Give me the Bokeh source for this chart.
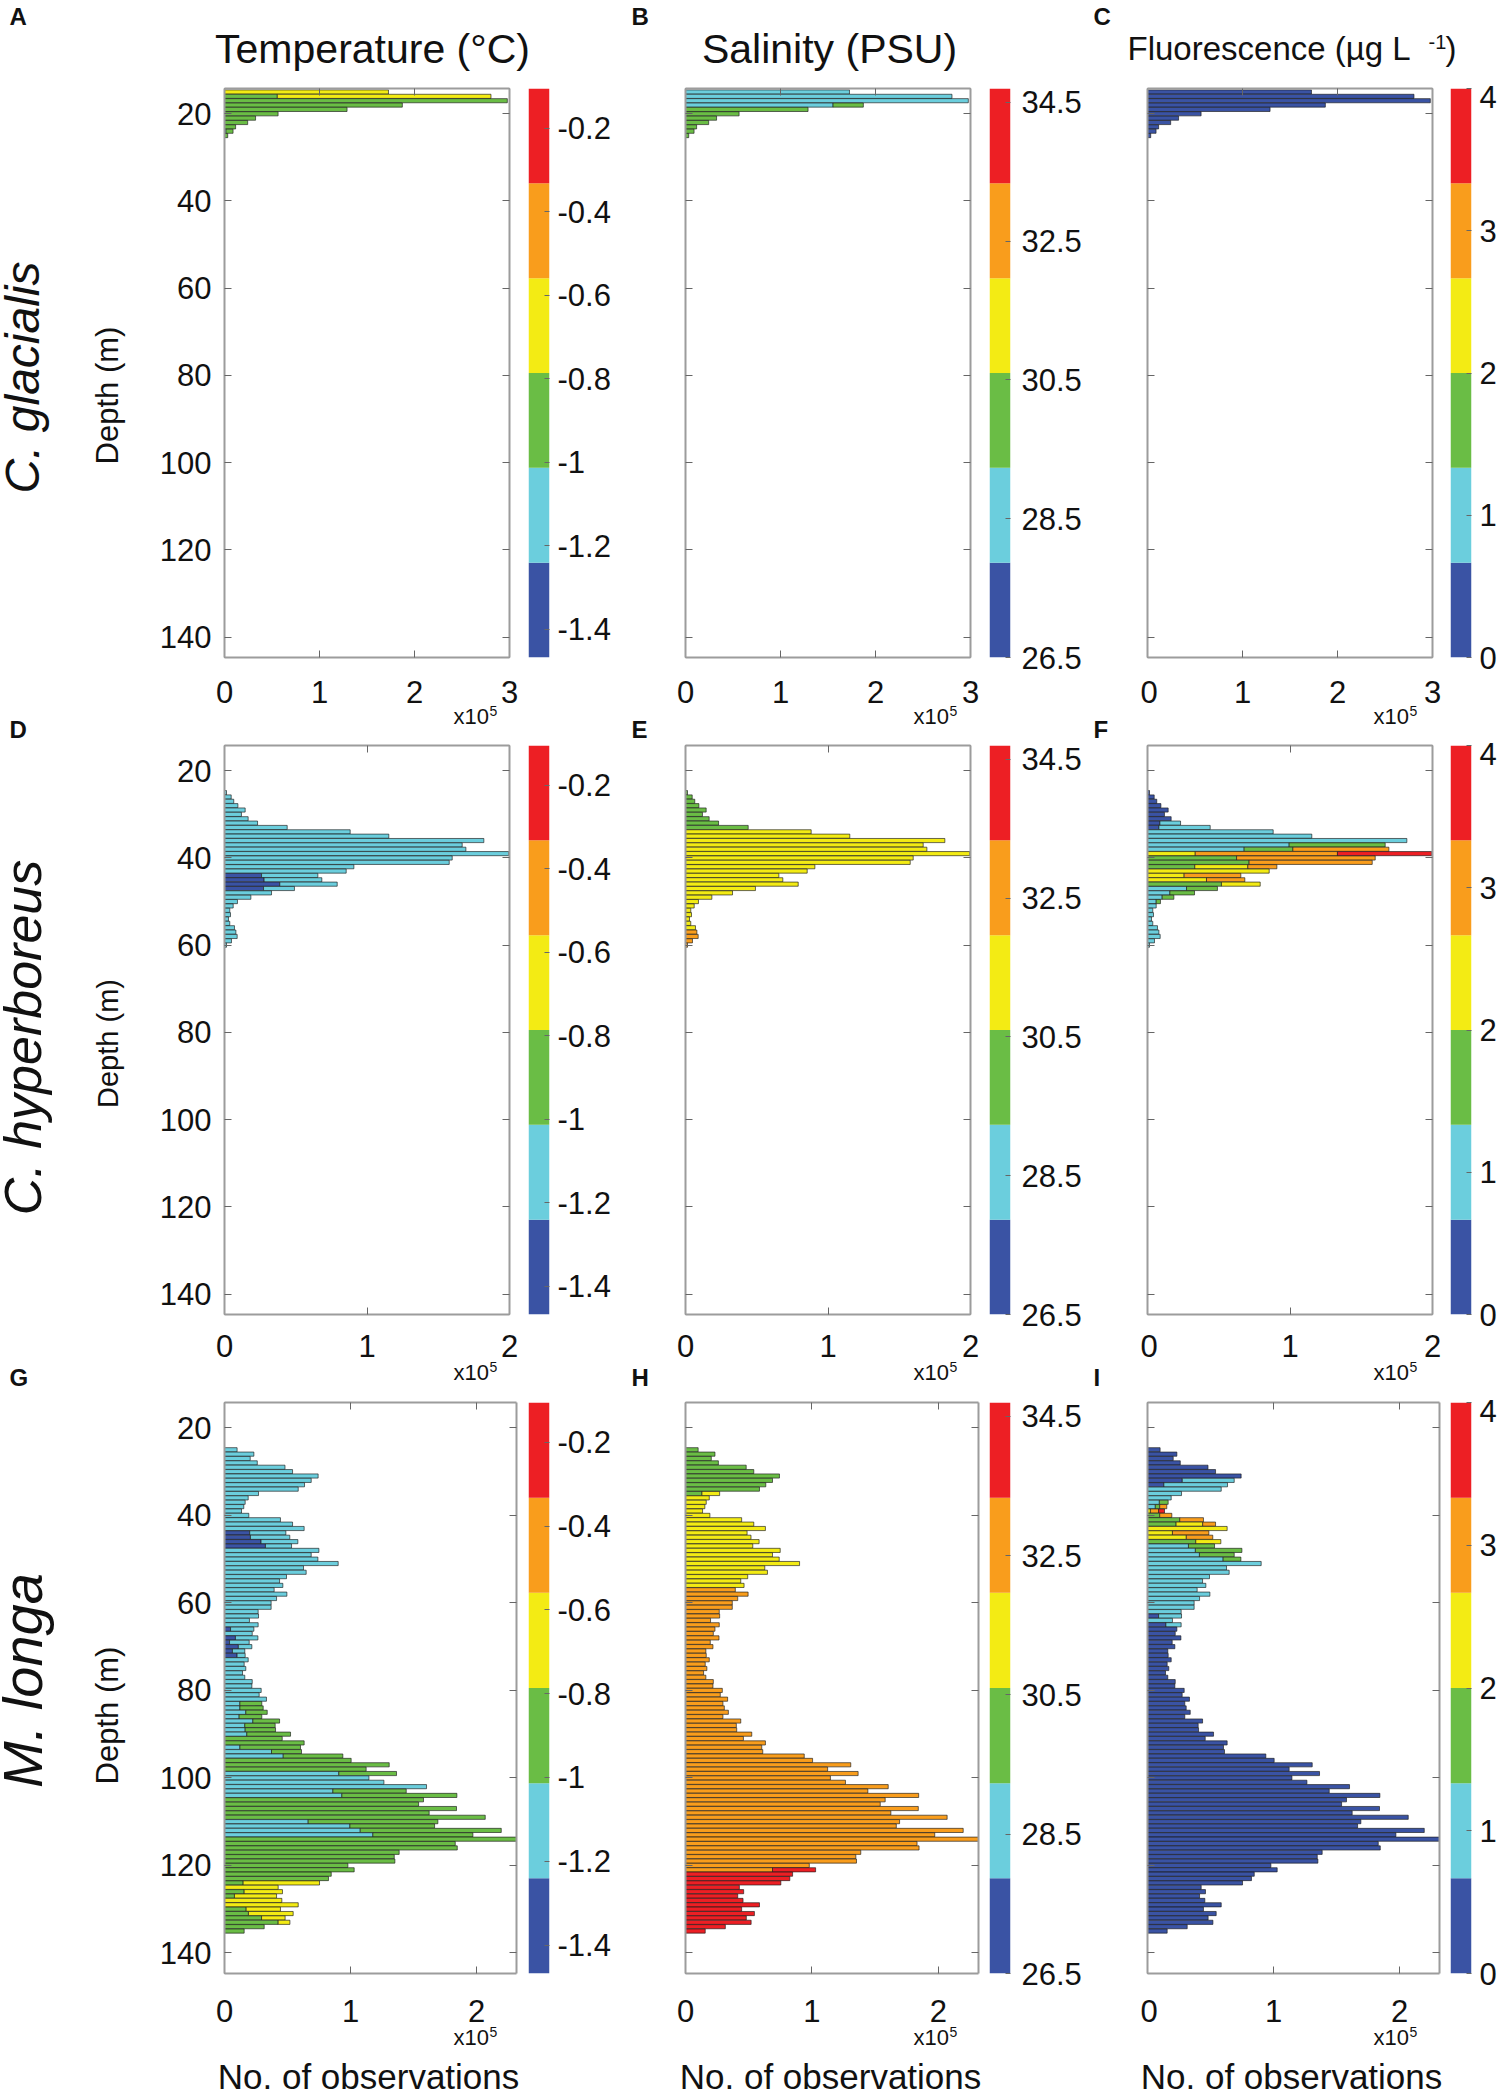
import numpy as np
from bokeh.core.properties import value
from bokeh.embed import file_html
from bokeh.layouts import column, row
from bokeh.models import FixedTicker, LinearAxis, Range1d
from bokeh.plotting import figure
from bokeh.resources import INLINE

# depth bins (m) of each row, one metre wide
DEPTHS_1 = list(range(15, 26))
DEPTHS_2 = list(range(25, 61))
DEPTHS_3 = list(range(25, 136))

# observations per bin, x10^5
TOTALS_1 = [1.726, 2.805, 2.977, 1.872, 1.29, .564, .327, .244, .117, .09, .034]
TOTALS_2 = [.014, .047, .065, .094, .145, .119, .166, .232, .44, .882, 1.153, 1.82,
            1.668, 1.694, 1.995, 1.598, 1.577, .908, .854, .655, .683, .791, .491,
            .33, .185, .091, .061, .037, .042, .028, .037, .07, .08, .089, .049, .014]
TOTALS_3 = [.10, .233, .204, .26, .48, .54, .743, .688, .635, .585, .27, .188, .164,
            .153, .135, .193, .444, .54, .632, .487, .518, .582, .532, .749, .688,
            .741, .902, .627, .648, .492, .437, .463, .394, .495, .413, .37, .37,
            .267, .27, .198, .267, .233, .22, .265, .196, .217, .161, .164, .188,
            .156, .169, .143, .161, .22, .217, .291, .275, .333, .296, .307, .339,
            .296, .437, .402, .405, .524, .458, .632, .603, .611, .939, 1.005, 1.307,
            1.124, 1.365, 1.146, 1.265, 1.603, 1.442, 1.844, 1.579, 1.54, 1.841,
            1.624, 2.069, 1.693, 1.667, 2.196, 1.971, 2.317, 1.831, 1.847, 1.386,
            1.347, 1.352, .979, 1.029, .847, .825, .754, .426, .46, .413, .455, .585,
            .444, .545, .481, .519, .315, .156]

# colours in each bar, left to right, and where one colour gives way to the next
A_COLORS = ["y", "gy"] + ["g"] * 7 + ["cg", "g"]
A_SPLITS = [.556, .015]
B_COLORS = ["c"] * 3 + ["cg"] + ["g"] * 7
B_SPLITS = [1.553]
C_COLORS = ["b"] * 11
C_SPLITS = []

D_COLORS = ["c"] * 19 + ["bc"] * 4 + ["c"] * 13
D_SPLITS = [.26, .278, .388, .274]
E_COLORS = ["g"] * 9 + ["y"] * 23 + ["o"] * 4
E_SPLITS = []
F_COLORS = (["b"] * 7 + ["bc"] * 2 + ["c"] * 3 + ["cg", "cgo", "yor", "go", "go", "gyo", "y",
            "yo", "yo", "gy"] + ["cg"] * 4 + ["c"] * 10)
F_SPLITS = [.087, .08, .994, .678, 1.02, .335, 1.333, .625, .713, .332, .704, .257, .414,
            .519, .274, .157, .103, .061]

G_COLORS = (["c"] * 19 + ["bc"] * 4 + ["c"] * 18 + ["bc", "c"] + ["bc"] * 5 + ["c"] * 10
            + ["cg"] * 8 + ["g"] * 2 + ["cg"] * 3 + ["g"] * 3 + ["cg"] + ["c"] * 3 + ["cg"] * 2
            + ["g"] * 5 + ["cg"] * 4 + ["g"] * 10 + ["gy", "y"] + ["gy"] * 2 + ["y"] * 2
            + ["gy"] * 4 + ["g"] * 2)
G_SPLITS = [.20, .206, .29, .325, .048, .087, .04, .11, .063, .10, .122, .122, .169, .116,
            .225, .161, .164, .177, .122, .373, .466, .907, .86, .931, .664, .995, 1.077,
            1.177, .148, .156, .079, .172, .19, .294, .426]
H_COLORS = ["g"] * 10 + ["gy"] + ["y"] * 21 + ["o"] * 64 + ["or"] + ["r"] * 14
H_SPLITS = [.13, .688]
I_COLORS = (["b"] * 7 + ["bc"] * 2 + ["c"] * 3 + ["cg", "cgo", "yor", "go", "go", "gyo", "y",
            "yo", "yo", "gy"] + ["cg"] * 4 + ["c"] * 12 + ["bc", "c", "bc"] + ["b"] * 70)
I_SPLITS = [.276, .13, .094, .062, .097, .023, .088, .097, .256, .227, .438, .198, .308,
            .383, .325, .38, .412, .60, .088, .146]

DEPTH_TICKS = [20, 40, 60, 80, 100, 120, 140]
TEMP_TICKS = [-0.2, -0.4, -0.6, -0.8, -1, -1.2, -1.4]
TEMP_LABELS = ["-0.2", "-0.4", "-0.6", "-0.8", "-1", "-1.2", "-1.4"]
SAL_TICKS = [34.5, 32.5, 30.5, 28.5, 26.5]
SAL_LABELS = ["34.5", "32.5", "30.5", "28.5", "26.5"]
FLUO_TICKS = [4, 3, 2, 1, 0]
FLUO_LABELS = ["4", "3", "2", "1", "0"]

PALETTE = {"b": "#3A53A4", "c": "#6BCEDD", "g": "#6ABD45", "y": "#F3EB14", "o": "#F99D1C",
           "r": "#ED1F24"}
BAND_ORDER = ["b", "c", "g", "y", "o", "r"]
FONT = "Liberation Sans"
AXIS_GREY = "#9c9c9c"
TICK_GREY = "#666666"


def bare(p):
    p.grid.visible = False
    p.outline_line_color = None
    return p


def strip(x0, y0, x1, y1):
    # blank figure whose frame is a piece of the page, its data coordinates are page pixels
    return bare(figure(width=x1 - x0, height=y1 - y0, x_range=Range1d(x0, x1), y_range=Range1d(y1, y0),
                       x_axis_location=None, y_axis_location=None, min_border=0,
                       output_backend="svg", toolbar_location=None))


def put_text(p, s, x, y, size, style="normal", angle=0, align="left"):
    p.text(x=[x], y=[y], text=[s], text_font=value(FONT), text_font_size=f"{size}px",
           text_font_style=style, text_color="#111111", angle=angle, text_align=align,
           text_baseline="middle")


def bar_segments(depths, totals, colors, splits):
    ys, lefts, rights, fills = [], [], [], []
    pending = list(splits)
    for depth, total, cols in zip(depths, totals, colors):
        start = 0.0
        for i, c in enumerate(cols):
            end = total if i == len(cols) - 1 else pending.pop(0)
            ys.append(depth)
            lefts.append(start)
            rights.append(end)
            fills.append(PALETTE[c])
            start = end
    return ys, lefts, rights, fills


def style_axis(ax, ticks, labelled, standoff=13):
    ax.ticker = FixedTicker(ticks=ticks)
    ax.axis_line_color = AXIS_GREY
    ax.axis_line_width = 2
    ax.major_tick_in = 7
    ax.major_tick_out = 0
    ax.major_tick_line_color = TICK_GREY
    ax.major_tick_line_width = 1
    ax.minor_tick_line_color = None
    ax.major_label_standoff = standoff
    ax.major_label_text_font = FONT
    ax.major_label_text_font_size = "31px" if labelled else "0px"
    ax.major_label_text_color = "#111111"


def panel(box, xmax, xticks, depths, totals, colors, splits, show_depth, x_standoff):
    left, fw, right, top, fh, bottom = box
    p = bare(figure(frame_width=fw, frame_height=fh, min_border_left=left, min_border_right=right,
                    min_border_top=top, min_border_bottom=bottom,
                    x_range=Range1d(0, xmax), y_range=Range1d(144.7, 14.2),
                    output_backend="svg", toolbar_location=None))
    style_axis(p.xaxis[0], xticks, True, x_standoff)
    style_axis(p.yaxis[0], DEPTH_TICKS, show_depth)
    top_axis = LinearAxis()
    style_axis(top_axis, xticks, False, 0)
    p.add_layout(top_axis, "above")
    right_axis = LinearAxis()
    style_axis(right_axis, DEPTH_TICKS, False, 0)
    p.add_layout(right_axis, "right")
    ys, lefts, rights, fills = bar_segments(depths, totals, colors, splits)
    p.hbar(y=ys, left=lefts, right=rights, height=0.95, fill_color=fills,
           line_color="#1c1c1c", line_width=1, line_alpha=0.65)
    return p


def color_band(box, vmin, vmax, ticks, labels, standoff):
    left, fw, right, top, fh, bottom = box
    p = bare(figure(frame_width=fw, frame_height=fh, min_border_left=left, min_border_right=right,
                    min_border_top=top, min_border_bottom=bottom,
                    x_range=Range1d(0, 1), y_range=Range1d(vmin, vmax), x_axis_location=None,
                    y_axis_location="right", output_backend="svg", toolbar_location=None))
    edges = np.linspace(vmin, vmax, len(BAND_ORDER) + 1)
    p.quad(left=0, right=1, bottom=edges[:-1], top=edges[1:],
           fill_color=[PALETTE[c] for c in BAND_ORDER], line_color=None)
    ax = p.yaxis[0]
    style_axis(ax, ticks, True, standoff)
    ax.axis_line_color = None
    ax.major_tick_in = 5
    ax.major_label_overrides = dict(zip(ticks, labels))
    return p


def side_strip(x1, box_top, frame_top, fh, box_bottom):
    # left column of a row: its frame lines up with the panels' frames
    p = bare(figure(width=x1, frame_height=fh, min_border_top=frame_top - box_top,
                    min_border_bottom=box_bottom - frame_top - fh, min_border_left=0,
                    min_border_right=0, x_range=Range1d(0, x1),
                    y_range=Range1d(frame_top + fh, frame_top), x_axis_location=None,
                    y_axis_location=None, output_backend="svg", toolbar_location=None))
    return p


# page geometry, all in page pixels
# (figure left, frame left, frame width, frame width of last row, figure right)
PANEL_COLS = [(155, 224, 285, 292, 522), (676, 685, 285, 293, 987), (1140, 1147, 285, 292, 1444)]
# (figure left, frame left, frame width, figure right)
BAND_COLS = [(522, 528, 21, 676), (987, 989, 21, 1140), (1444, 1450, 21, 1492)]
# (figure top, frame top, frame height, figure bottom)
ROWS = [(85, 88, 569, 705), (742, 745, 569, 1359), (1399, 1402, 571, 2024)]
# text strips under each row, (top, bottom)
UNDER = [(705, 742), (1359, 1399), (2024, 2094)]

XMAX = [3, 2, 2.317]
XTICKS = [[0, 1, 2, 3], [0, 1, 2], [0, 1, 2]]
X_STANDOFF = [23, 20, 26]
BAND_STANDOFF = [8, 11, 8]
ROW_DATA = [(DEPTHS_1, TOTALS_1, [(A_COLORS, A_SPLITS), (B_COLORS, B_SPLITS), (C_COLORS, C_SPLITS)]),
            (DEPTHS_2, TOTALS_2, [(D_COLORS, D_SPLITS), (E_COLORS, E_SPLITS), (F_COLORS, F_SPLITS)]),
            (DEPTHS_3, TOTALS_3, [(G_COLORS, G_SPLITS), (H_COLORS, H_SPLITS), (I_COLORS, I_SPLITS)])]
BANDS = [(-1.468, -0.105, TEMP_TICKS, TEMP_LABELS), (26.5, 34.7, SAL_TICKS, SAL_LABELS),
         (0, 4, FLUO_TICKS, FLUO_LABELS)]
SPECIES = ["C. glacialis", "C. hyperboreus", "M. longa"]
SPECIES_Y = [377, 1037, 1680]
SPECIES_SIZE = [48, 52, 56]
DEPTH_LABEL_Y = [395, 1043, 1715]
DEPTH_LABEL_SIZE = [31, 29, 31]
LETTER_X = [9, 631, 1093]
LETTER_Y = [16, 729, 1377]
NEXT_LETTERS = [["D", "E", "F"], ["G", "H", "I"]]
OBS_X = [368, 830, 1291]
EXP_X = [453, 913, 1373]
EXP_Y = [716, 1372, 2037]

# titles and first letters run across the top of the page
top_strip = strip(0, 0, 1492, 85)
for letter, x in zip(["A", "B", "C"], LETTER_X):
    put_text(top_strip, letter, x, LETTER_Y[0], 24, style="bold")
put_text(top_strip, "Temperature (°C)", 372, 48, 41, align="center")
put_text(top_strip, "Salinity (PSU)", 829, 48, 41, align="center")
put_text(top_strip, "Fluorescence (µg L", 1127, 48, 33)
put_text(top_strip, "-1", 1428, 41, 20)
put_text(top_strip, ")", 1445, 48, 33)

rows_out = [top_strip]
for r, (fig_top, frame_top, fh, fig_bottom) in enumerate(ROWS):
    origin_y = frame_top + fh
    depths, totals, series = ROW_DATA[r]

    left_strip = side_strip(155, fig_top, frame_top, fh, fig_bottom)
    put_text(left_strip, "Depth (m)", 107, DEPTH_LABEL_Y[r], DEPTH_LABEL_SIZE[r], angle=np.pi / 2,
             align="center")
    put_text(left_strip, SPECIES[r], 22, SPECIES_Y[r], SPECIES_SIZE[r], style="italic",
             angle=np.pi / 2, align="center")
    cells = [left_strip]

    for c in range(3):
        x0, fx, fw, fw_last, x1 = PANEL_COLS[c]
        width = fw_last if r == 2 else fw
        box = (fx - x0, width, x1 - fx - width, frame_top - fig_top, fh, fig_bottom - origin_y)
        cells.append(panel(box, XMAX[r], XTICKS[r], depths, totals, series[c][0], series[c][1],
                           c == 0, X_STANDOFF[r]))

        bx0, bfx, bfw, bx1 = BAND_COLS[c]
        vmin, vmax, ticks, labels = BANDS[c]
        box = (bfx - bx0, bfw, bx1 - bfx - bfw, frame_top - fig_top, fh, fig_bottom - origin_y)
        cells.append(color_band(box, vmin, vmax, ticks, labels, BAND_STANDOFF[c]))
    rows_out.append(row(*cells, spacing=0))

    # exponent notes, next row's letters and the bottom labels sit in a strip under the row
    under = strip(0, UNDER[r][0], 1492, UNDER[r][1])
    for x in EXP_X:
        put_text(under, "x10", x, EXP_Y[r], 22)
        put_text(under, "5", x + 36, EXP_Y[r] - 6, 14)
    if r < 2:
        for letter, x in zip(NEXT_LETTERS[r], LETTER_X):
            put_text(under, letter, x, LETTER_Y[r + 1], 24, style="bold")
    else:
        for x in OBS_X:
            put_text(under, "No. of observations", x, 2076, 35, align="center")
    rows_out.append(under)

page = column(*rows_out, spacing=0)
open("out.html", "w").write(file_html(page, INLINE))
